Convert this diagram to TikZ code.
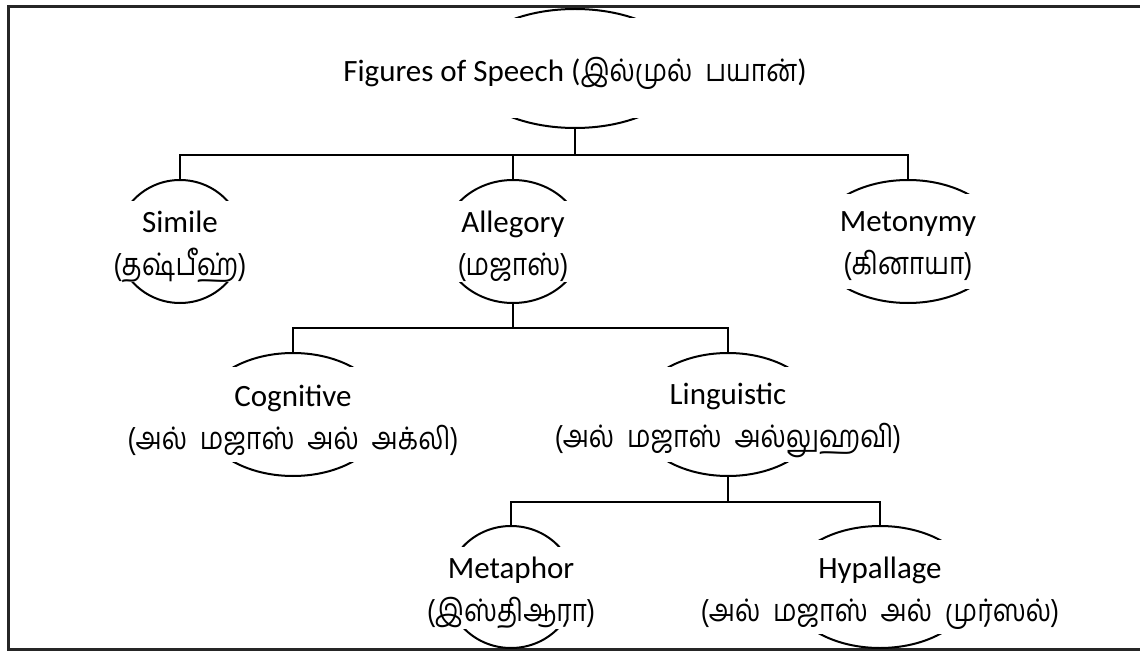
\documentclass[tikz,border=0pt]{standalone}
\usepackage{fontspec}
\setmainfont{Carlito}
\newfontfamily\tamil[Script=Tamil,WordSpace=2,FakeStretch=0.85]{Hind Madurai}
\usetikzlibrary{shapes.geometric}

\begin{document}
\begin{tikzpicture}[x=0.5pt, y=-0.5pt]
 \tikzstyle{rond}=[ellipse, draw, line width=1pt, inner sep=0pt, outer sep=0pt]
 \tikzstyle{cache}=[fill=white, inner sep=0pt]
 \tikzstyle{texte}=[fill=white, inner sep=0pt, align=center, font=\fontsize{15.5}{21.5}\selectfont]
 \tikzstyle{lien}=[line width=1pt]
 \useasboundingbox (0,0) rectangle (1140,652);
 \draw[line width=1.5pt, black!85] (1140,7) -- (8,7) -- (8,649) -- (1140,649);
 %
 \node[rond, minimum width=110pt, minimum height=59.5pt] (FoS) at (575,68.5) {};
 \node[cache, minimum width=113pt, minimum height=50pt] (FoSc) at (FoS) {};
 \node[texte] (FoSt) at (575,73) {Figures of Speech ({\tamil இல்முல்  பயான்})};
 %
 \node[rond, minimum width=63pt, minimum height=61.5pt] (Sim) at (180,241.5) {};
 \node[cache, minimum width=66pt, minimum height=40pt] (Simc) at (Sim) {};
 \node[texte] (Simt) at (180,246.5) {Simile\\{\tamil (தஷ்பீஹ்)}};
 \node[rond, minimum width=70pt, minimum height=61.5pt] (All) at (513,241.5) {};
 \node[cache, minimum width=73pt, minimum height=40pt] (Allc) at (All) {};
 \node[texte] (Allt) at (513,246.5) {Allegory\\{\tamil (மஜாஸ்)}};
 \node[rond, minimum width=94pt, minimum height=61.5pt] (Met) at (908,241.5) {};
 \node[cache, minimum width=97pt, minimum height=47.5pt] (Metc) at (Met) {};
 \node[texte] (Mett) at (908,246.5) {Metonymy\\{\tamil (கினாயா)}};
 %
 \node[rond, minimum width=93pt, minimum height=61.5pt] (Cog) at (293,414.5) {};
 \node[cache, minimum width=96pt, minimum height=47.5pt] (Cogc) at (Cog) {};
 \node[texte] (Cogt) at (293,420.5) {Cognitive\\{\tamil (அல் மஜாஸ் அல் அக்லி)}};
 \node[rond, minimum width=93pt, minimum height=61.5pt] (Lin) at (728,414.5) {};
 \node[cache, minimum width=96pt, minimum height=47.5pt] (Linc) at (Lin) {};
 \node[texte] (Lint) at (728,420.5) {Linguistic\\{\tamil (அல் மஜாஸ் அல்லுஹவி)}};
 %
 \node[rond, minimum width=64pt, minimum height=61pt] (Mph) at (511,587) {};
 \node[cache, minimum width=67pt, minimum height=40pt] (Mphc) at (Mph) {};
 \node[texte] (Mpht) at (511,593) {Metaphor\\{\tamil (இஸ்திஆரா)}};
 \node[rond, minimum width=94pt, minimum height=61pt] (Hyp) at (880,587) {};
 \node[cache, minimum width=97pt, minimum height=47pt] (Hypc) at (Hyp) {};
 \node[texte] (Hypt) at (880,593) {Hypallage\\{\tamil (அல் மஜாஸ் அல் முர்ஸல்)}};
 %%
 \draw[lien] (FoS.south) -- ++(0,27) -| (Sim.north);
 \draw[lien] (FoS.south) -- ++(0,27) -| (All.north);
 \draw[lien] (FoS.south) -- ++(0,27) -| (Met.north);
 \draw[lien] (All.south) -- ++(0,25) -| (Cog.north);
 \draw[lien] (All.south) -- ++(0,25) -| (Lin.north);
 \draw[lien] (Lin.south) -- ++(0,26) -| (Mph.north);
 \draw[lien] (Lin.south) -- ++(0,26) -| (Hyp.north);
\end{tikzpicture}
\end{document}
